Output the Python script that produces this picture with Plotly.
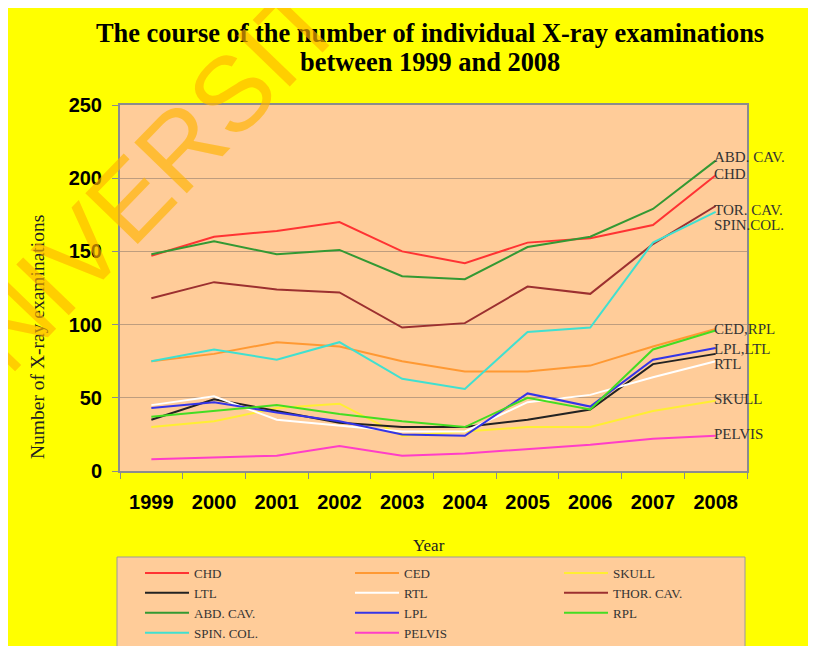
"""Course of individual X-ray examinations, 1999-2008 (Excel-style line chart)."""

from __future__ import annotations

import plotly.graph_objects as go

YEARS = ["1999", "2000", "2001", "2002", "2003", "2004", "2005", "2006", "2007", "2008"]

CHD = [147, 160, 164, 170, 150, 142, 156, 159, 168, 202]
CED = [75, 80, 88, 85, 75, 68, 68, 72, 85, 97]
SKULL = [30, 34, 43, 46, 24, 27, 30, 30, 41, 48]
LTL = [35, 49, 41, 33, 30, 30, 35, 42, 73, 80]
RTL = [45, 51, 35, 31, 27, 27, 47, 52, 64, 75]
THOR_CAV = [118, 129, 124, 122, 98, 101, 126, 121, 155, 181]
ABD_CAV = [148, 157, 148, 151, 133, 131, 153, 160, 179, 212]
LPL = [43, 47, 40, 34, 25, 24, 53, 44, 76, 84]
RPL = [37, 41, 45, 39, 34, 30, 50, 42, 83, 96]
SPIN_COL = [75, 83, 76, 88, 63, 56, 95, 98, 156, 177]
PELVIS = [8, 9, 10.5, 17, 10.5, 12, 15, 18, 22, 24]

SERIES = {
    "CHD": CHD,
    "CED": CED,
    "SKULL": SKULL,
    "LTL": LTL,
    "RTL": RTL,
    "THOR. CAV.": THOR_CAV,
    "ABD. CAV.": ABD_CAV,
    "LPL": LPL,
    "RPL": RPL,
    "SPIN. COL.": SPIN_COL,
    "PELVIS": PELVIS,
}

# labels written at the 2008 end of the lines: (text, series it sits on)
END_LABELS = [
    ("ABD. CAV.", "ABD. CAV."),
    ("CHD", "CHD"),
    ("TOR. CAV.", "THOR. CAV."),
    ("SPIN.COL.", "SPIN. COL."),
    ("CED,RPL", "CED"),
    ("LPL,LTL", "LPL"),
    ("RTL", "RTL"),
    ("SKULL", "SKULL"),
    ("PELVIS", "PELVIS"),
]

TITLE_LINES = [
    "The course of the number of individual X-ray examinations",
    "between 1999 and 2008",
]
Y_TITLE = "Number of X-ray examinations"
X_TITLE = "Year"
WATERMARK = "UNIVERSITY"

# --- styling -------------------------------------------------------------
COLORS = {
    "CHD": "#FF3333",
    "CED": "#FF9933",
    "SKULL": "#FFEE33",
    "LTL": "#222222",
    "RTL": "#FFFFFF",
    "THOR. CAV.": "#9C3030",
    "ABD. CAV.": "#339933",
    "LPL": "#3535E8",
    "RPL": "#44DD22",
    "SPIN. COL.": "#40E0D0",
    "PELVIS": "#FF3EC8",
}
LEGEND_OF = {
    "CHD": "legend", "LTL": "legend", "ABD. CAV.": "legend", "SPIN. COL.": "legend",
    "CED": "legend2", "RTL": "legend2", "LPL": "legend2", "PELVIS": "legend2",
    "SKULL": "legend3", "THOR. CAV.": "legend3", "RPL": "legend3",
}
LABEL_SHIFT = {
    "ABD. CAV.": 4, "CHD": 1, "TOR. CAV.": -4, "SPIN.COL.": -13,
    "CED,RPL": 0, "LPL,LTL": -1, "RTL": -3, "SKULL": 2, "PELVIS": 2,
}

YELLOW = "#FFFF00"
PEACH = "#FFCC99"
FRAME = "#8C8C8C"
SERIF = "Liberation Serif, Times New Roman, serif"
SANS = "Liberation Sans, Arial, sans-serif"

# the page body adds an 8px offset; screen positions below are measured on
# the screenshot and converted back to figure space
PAGE_OFFSET = 8
WIDTH, HEIGHT = 816, 646
MARGIN = dict(l=112, r=77, t=97, b=183, autoexpand=False)
PLOT_W = WIDTH - MARGIN["l"] - MARGIN["r"]
PLOT_H = HEIGHT - MARGIN["t"] - MARGIN["b"]


def px_x(px: float) -> float:
    """Screen pixel column -> paper x."""
    return (px - PAGE_OFFSET - MARGIN["l"]) / PLOT_W


def px_y(py: float) -> float:
    """Screen pixel row -> paper y."""
    return (HEIGHT - MARGIN["b"] - (py - PAGE_OFFSET)) / PLOT_H


fig = go.Figure()
for name, values in SERIES.items():
    fig.add_trace(
        go.Scatter(
            x=YEARS,
            y=values,
            name=name,
            mode="lines",
            line=dict(color=COLORS[name], width=2),
            legend=LEGEND_OF[name],
            hovertemplate=f"{name}<br>%{{x}}: %{{y}}<extra></extra>",
        )
    )

annotations = []
for text, series in END_LABELS:
    annotations.append(
        dict(
            # category axis: position by index of the last year
            x=len(YEARS) - 1, y=SERIES[series][-1], xref="x", yref="y",
            text=text, showarrow=False, xanchor="left", yanchor="middle",
            xshift=-4, yshift=LABEL_SHIFT[text],
            font=dict(family=SERIF, size=15, color="#333333"),
        )
    )
for line_text, row in zip(TITLE_LINES, [33, 62]):
    annotations.append(
        dict(
            x=px_x(430), y=px_y(row), xref="paper", yref="paper",
            text=f"<b>{line_text}</b>", showarrow=False,
            xanchor="center", yanchor="middle",
            font=dict(family=SERIF, size=26.4, color="#000000"),
        )
    )
annotations += [
    dict(
        x=px_x(37), y=px_y(337), xref="paper", yref="paper",
        text=Y_TITLE, showarrow=False, textangle=-90,
        xanchor="center", yanchor="middle",
        font=dict(family=SERIF, size=19.5, color="#222222"),
    ),
    dict(
        x=px_x(429), y=px_y(545), xref="paper", yref="paper",
        text=X_TITLE, showarrow=False, xanchor="center", yanchor="middle",
        font=dict(family=SERIF, size=17, color="#222222"),
    ),
    dict(
        x=px_x(150), y=px_y(178), xref="paper", yref="paper",
        text=WATERMARK, showarrow=False, textangle=-46,
        xanchor="center", yanchor="middle",
        font=dict(family=SANS, size=106, color="rgba(255,180,0,0.65)"),
    ),
]

shapes = [
    dict(
        type="rect", xref="paper", yref="paper",
        x0=px_x(117), x1=px_x(745), y0=-1, y1=px_y(557),
        fillcolor=PEACH, layer="below", line=dict(width=1, color="#9A9A9A"),
    ),
]

legend_style = dict(
    xanchor="left", yanchor="top", y=px_y(558),
    bgcolor="rgba(0,0,0,0)", borderwidth=0, itemwidth=44,
    font=dict(family=SERIF, size=13, color="#333333"),
)

axis_style = dict(
    showline=True, linecolor=FRAME, linewidth=2, mirror=True,
    ticks="outside", tickcolor=FRAME, ticklen=6, automargin=False,
    tickfont=dict(family=SANS, size=20, color="#000000", weight="bold"),
)

fig.update_layout(
    width=WIDTH,
    height=HEIGHT,
    autosize=False,
    margin=MARGIN,
    paper_bgcolor=YELLOW,
    plot_bgcolor=PEACH,
    hovermode="closest",
    xaxis=dict(type="category", range=[-0.5, len(YEARS) - 0.5], showgrid=False,
               tickson="boundaries", tickangle=0, ticklabelstandoff=12, **axis_style),
    yaxis=dict(range=[0, 250], dtick=50, showgrid=True, zeroline=False,
               gridcolor="rgba(110,100,95,0.45)", gridwidth=1,
               ticklabelstandoff=6, **axis_style),
    legend=dict(x=px_x(140), **legend_style),
    legend2=dict(x=px_x(350), **legend_style),
    legend3=dict(x=px_x(559), **legend_style),
    shapes=shapes,
    annotations=annotations,
)

fig.write_html("out.html")
